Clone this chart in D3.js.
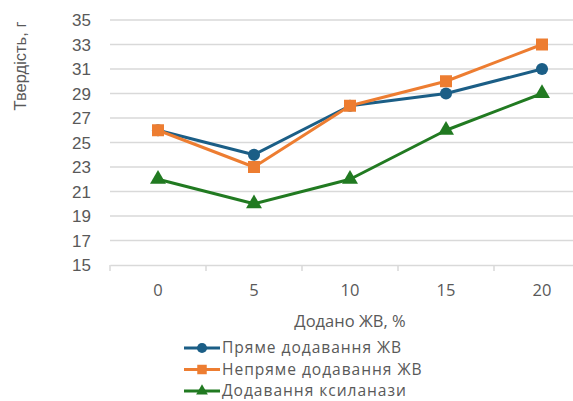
<!DOCTYPE html>
<html><head><meta charset="utf-8">
<script src="https://cdn.jsdelivr.net/npm/d3@7"></script>
<style>body{margin:0;background:#fff}svg{display:block}</style>
</head><body>
<svg id="c" width="573" height="401"></svg>
<script>
const categories = ["0","5","10","15","20"];
const seriesNames = ["Пряме додавання ЖВ","Непряме додавання ЖВ","Додавання ксиланази"];
const direct = [26,24,28,29,31];
const indirect = [26,23,28,30,33];
const xylanase = [22,20,22,26,29];
const yTicks = [15,17,19,21,23,25,27,29,31,33,35];
const colors = ["#1b5e86","#ed7d31","#217a21"];
const shapes = [d3.symbolCircle,d3.symbolSquare,d3.symbolTriangle];
const data = [direct,indirect,xylanase];

const font = "'Open Sans', sans-serif";
const font2 = "'Liberation Sans', Arial, sans-serif";
const txt = "#595959";
const svg = d3.select("#c");
const x = d3.scaleBand().domain(categories).range([110,590]);
const y = d3.scaleLinear().domain([15,35]).range([265,20]);

// gridlines
svg.append("g").selectAll("line").data(yTicks.slice(1)).join("line")
  .attr("x1",110).attr("x2",600).attr("y1",d=>y(d)).attr("y2",d=>y(d))
  .attr("stroke","#d9d9d9").attr("stroke-width",1.5);

// y labels
svg.append("g").selectAll("text").data(yTicks).join("text")
  .attr("x",91).attr("y",d=>y(d)).attr("dy","0.36em").attr("text-anchor","end")
  .attr("font-family",font2).attr("font-size",17).attr("fill",txt).text(d=>d);

// x axis
const xa = svg.append("g").attr("transform","translate(0,265)")
  .call(d3.axisBottom(x).tickSize(0).tickPadding(19));
xa.select(".domain").attr("stroke","#d9d9d9").attr("stroke-width",1.5);
xa.selectAll("text").attr("font-family",font).attr("font-size",16.5).attr("fill",txt);
svg.append("g").selectAll("line").data(categories.concat(["end"])).join("line")
  .attr("x1",(d,i)=>110+i*x.bandwidth()).attr("x2",(d,i)=>110+i*x.bandwidth())
  .attr("y1",265).attr("y2",271).attr("stroke","#d9d9d9").attr("stroke-width",1.5);

// titles
svg.append("text").attr("transform","translate(26,66) rotate(-90)").attr("text-anchor","middle")
  .attr("font-family",font2).attr("font-size",16.5).attr("fill",txt).text("Твердість, г");
svg.append("text").attr("x",350).attr("y",321).attr("dy","0.35em").attr("text-anchor","middle")
  .attr("font-family",font).attr("font-size",16.5).attr("fill",txt).text("Додано ЖВ, %");

// lines
const line = d3.line().x((d,i)=>x(categories[i])+x.bandwidth()/2).y(d=>y(d));
data.forEach((s,k)=>{
  svg.append("path").datum(s).attr("d",line).attr("fill","none")
    .attr("stroke",colors[k]).attr("stroke-width",3).attr("stroke-linejoin","round");
});
data.forEach((s,k)=>{
  svg.append("g").selectAll("path").data(s).join("path")
    .attr("transform",(d,i)=>`translate(${x(categories[i])+x.bandwidth()/2},${y(d)})`)
    .attr("d",d3.symbol().type(shapes[k]).size(k===1?144:(k===0?115:110)))
    .attr("fill",colors[k]);
});

// legend
const lg = svg.append("g");
seriesNames.forEach((n,k)=>{
  const yy = 348 + k*21.5;
  lg.append("line").attr("x1",184).attr("x2",220).attr("y1",yy).attr("y2",yy)
    .attr("stroke",colors[k]).attr("stroke-width",3);
  lg.append("path").attr("transform",`translate(202,${yy})`)
    .attr("d",d3.symbol().type(shapes[k]).size(k===1?90:(k===0?80:60))).attr("fill",colors[k]);
  lg.append("text").attr("x",222).attr("y",yy).attr("dy","0.35em")
    .attr("font-family",font).attr("font-size",15.6).attr("letter-spacing",0.95)
    .attr("fill",txt).text(n);
});
</script>
</body></html>
